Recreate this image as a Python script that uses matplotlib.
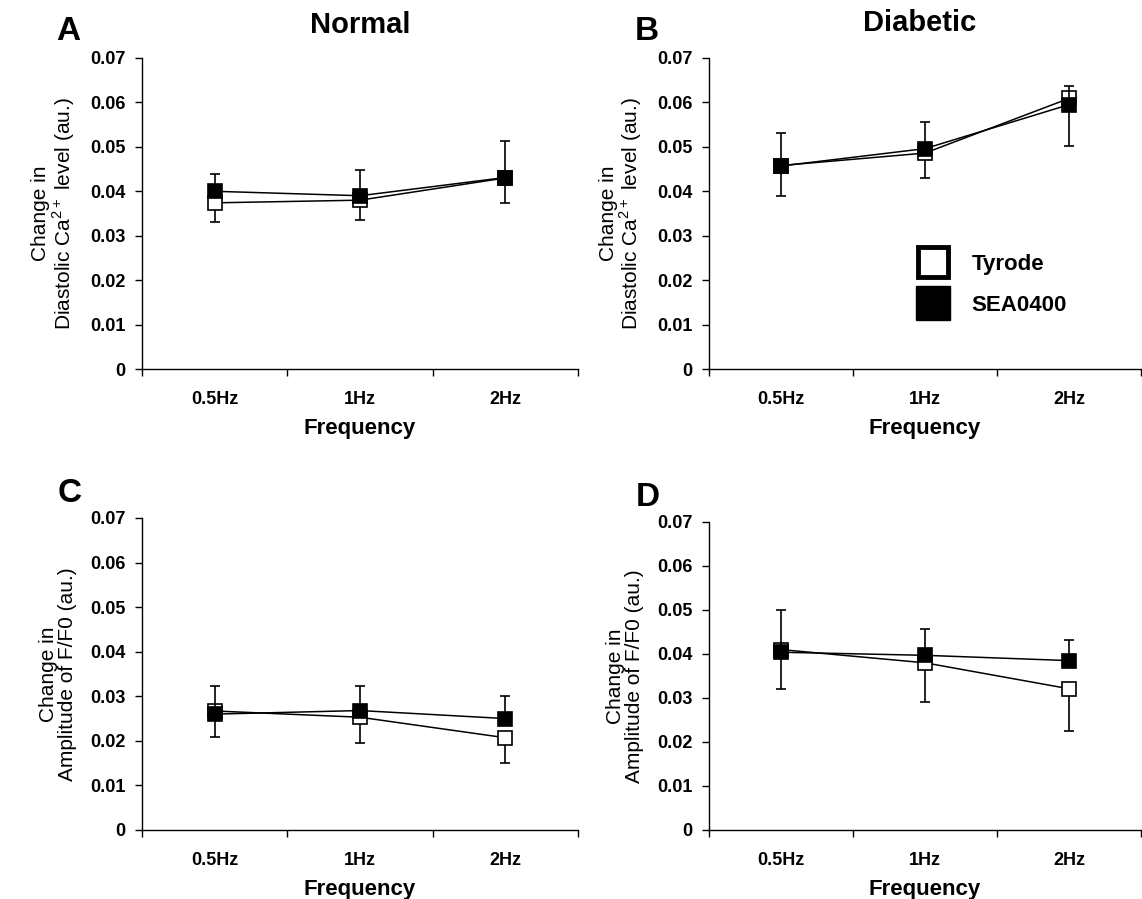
import numpy as np
import matplotlib.pyplot as plt
from matplotlib.lines import Line2D

plt.rcParams['font.family'] = ['Liberation Sans', 'DejaVu Sans']
plt.rcParams['mathtext.fontset'] = 'custom'
plt.rcParams['mathtext.rm'] = 'Liberation Sans'
plt.rcParams['mathtext.bf'] = 'Liberation Sans:bold'

freqs = ["0.5Hz", "1Hz", "2Hz"]
yticks = [0, 0.01, 0.02, 0.03, 0.04, 0.05, 0.06, 0.07]
ytick_labels = ["0", "0.01", "0.02", "0.03", "0.04", "0.05", "0.06", "0.07"]

# A - Normal, diastolic Ca2+
a_tyrode = [0.0374, 0.0380, 0.0430]
a_tyrode_err = [0.0044, 0.0044, 0.0056]
a_sea = [0.0400, 0.0390, 0.0431]
a_sea_err = [0.0040, 0.0059, 0.0083]

# B - Diabetic, diastolic Ca2+
b_tyrode = [0.0458, 0.0486, 0.0609]
b_tyrode_err = [0.0069, 0.0056, 0.0106]
b_sea = [0.0457, 0.0496, 0.0595]
b_sea_err = [0.0074, 0.0060, 0.0043]

# C - Normal, amplitude F/F0
c_tyrode = [0.0267, 0.0253, 0.0207]
c_tyrode_err = [0.0058, 0.0058, 0.0057]
c_sea = [0.0260, 0.0268, 0.0250]
c_sea_err = [0.0063, 0.0055, 0.0050]

# D - Diabetic, amplitude F/F0
d_tyrode = [0.0410, 0.0380, 0.0321]
d_tyrode_err = [0.0090, 0.0088, 0.0096]
d_sea = [0.0404, 0.0397, 0.0385]
d_sea_err = [0.0096, 0.0060, 0.0047]

W, H = 1142, 899
fig = plt.figure(figsize=(W / 100, H / 100), dpi=100)


def px_axes(l, t, r, b):
    return fig.add_axes([l / W, 1 - b / H, (r - l) / W, (b - t) / H])


def draw_panel(ax, ty, ty_err, sea, sea_err, ylabel):
    x = np.arange(len(freqs))
    z = np.zeros(len(freqs))
    ax.errorbar(x, ty, yerr=[ty_err, z], color='black', lw=1.1, elinewidth=1.2,
                capsize=3.5, capthick=1.2, marker='s', ms=9.5, mfc='white',
                mec='black', mew=1.2, zorder=3)
    ax.errorbar(x, sea, yerr=[z, sea_err], color='black', lw=1.1, elinewidth=1.2,
                capsize=3.5, capthick=1.2, marker='s', ms=9.5, mfc='black',
                mec='black', mew=1.2, zorder=4)
    ax.set_xlim(-0.5, 2.5)
    ax.set_ylim(0, 0.07)
    ax.set_yticks(yticks)
    ax.set_yticklabels(ytick_labels, fontweight='bold', fontsize=13)
    ax.set_xticks([-0.5, 0.5, 1.5, 2.5])
    ax.set_xticklabels([])
    ax.set_xticks(x, minor=True)
    ax.set_xticklabels(freqs, minor=True, fontweight='bold', fontsize=13)
    ax.tick_params(axis='x', which='major', direction='out', length=5, width=1)
    ax.tick_params(axis='x', which='minor', length=0, pad=16)
    ax.tick_params(axis='y', direction='out', length=5, width=1, pad=7)
    for s in ['top', 'right']:
        ax.spines[s].set_visible(False)
    for s in ['left', 'bottom']:
        ax.spines[s].set_linewidth(1.0)
    ax.set_xlabel("Frequency", fontweight='bold', fontsize=16, labelpad=7)
    ax.set_ylabel(ylabel, fontsize=15, linespacing=1.0)
    ax.yaxis.set_label_coords(-0.15, 0.5)


lab_ca = "Change in\nDiastolic Ca$^{2+}$ level (au.)"
lab_amp = "Change in\nAmplitude of F/F0 (au.)"

axA = px_axes(142, 58, 578, 369)
draw_panel(axA, a_tyrode, a_tyrode_err, a_sea, a_sea_err, lab_ca)
axB = px_axes(709, 58, 1141, 369)
draw_panel(axB, b_tyrode, b_tyrode_err, b_sea, b_sea_err, lab_ca)
axC = px_axes(142, 518, 578, 830)
draw_panel(axC, c_tyrode, c_tyrode_err, c_sea, c_sea_err, lab_amp)
axD = px_axes(709, 522, 1141, 830)
draw_panel(axD, d_tyrode, d_tyrode_err, d_sea, d_sea_err, lab_amp)


def ftext(xp, yp, s, **kw):
    fig.text(xp / W, 1 - yp / H, s, ha='center', va='center', fontweight='bold', **kw)


ftext(68, 32, "A", fontsize=24)
ftext(647, 32, "B", fontsize=24)
ftext(70, 494, "C", fontsize=24)
ftext(648, 498, "D", fontsize=24)
ftext(360, 25, "Normal", fontsize=21)
ftext(920, 23, "Diabetic", fontsize=21)

handles = [
    Line2D([], [], ls='none', marker='s', ms=22, mfc='white', mec='black', mew=3.5),
    Line2D([], [], ls='none', marker='s', ms=24, mfc='black', mec='black', mew=1),
]
fig.legend(handles, ["Tyrode", "SEA0400"], loc='upper left',
           bbox_to_anchor=(916 / W, 1 - 254 / H), frameon=False,
           prop={'weight': 'bold', 'size': 16}, handlelength=1.5,
           handletextpad=1.0, labelspacing=0.9, borderpad=0, borderaxespad=0)

fig.savefig("out.png", dpi=100)
